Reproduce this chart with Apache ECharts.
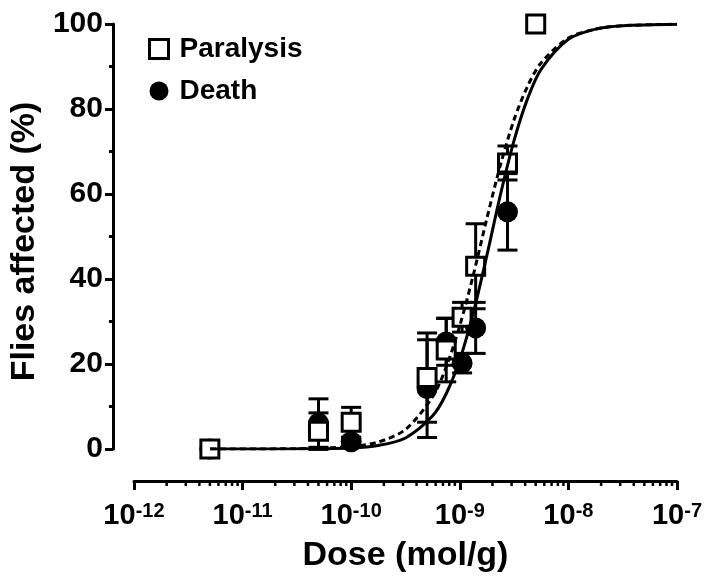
<!DOCTYPE html>
<html><head><meta charset="utf-8">
<script src="https://cdn.jsdelivr.net/npm/echarts@6/dist/echarts.min.js"></script>
<style>html,body{margin:0;padding:0;background:#fff}#c{width:716px;height:585px}</style>
</head><body><div id="c"></div>
<script>
// Doses (mol/g)
const paralysisDoses = [5e-12, 5e-11, 1e-10, 5e-10, 7.5e-10, 1.05e-9, 1.4e-9, 2.75e-9, 5e-9];
const paralysisMean  = [0, 4.2, 6.3, 16.8, 23.3, 31, 43, 67.3, 100];
const paralysisErr   = [0, 4.3, 3.5, 10.5, 7.5, 3.5, 10, 4, 0];
const deathDoses = [5e-12, 5e-11, 1e-10, 5e-10, 7.5e-10, 1.05e-9, 1.4e-9, 2.75e-9];
const deathMean  = [0, 6.1, 1.7, 14.2, 25.2, 20.2, 28.5, 55.8];
const deathErr   = [0, 5.7, 1, 11.5, 5.5, 2.3, 6, 9];
// fitted curves, at log10(dose)
const curveLogDose   = [-11.3, -10.5, -10, -9.75, -9.5, -9.25, -9.125, -9, -8.875, -8.75, -8.625, -8.5, -8.375, -8.25, -8, -7.75, -7.5, -7];
const deathCurve     = [0, 0.03, 0.26, 0.83, 2.6, 7.8, 13.0, 21.0, 32.1, 45.6, 59.9, 72.6, 82.5, 89.4, 96.4, 98.8, 99.6, 99.96];
const paralysisCurve = [0, 0.07, 0.57, 1.65, 4.6, 12.3, 19.3, 29.0, 41.0, 54.3, 66.9, 77.5, 85.4, 90.9, 96.7, 98.8, 99.6, 99.95];
// axis ticks
const xDecades = [-12, -11, -10, -9, -8];
const minorMultipliers = [2, 3, 4, 5, 6, 7, 8, 9];

const FONT = 'Liberation Sans, Arial, sans-serif';
const X_OFFSET = 32, Y_OFFSET = 21;

const minorTickData = [];
xDecades.forEach(d => minorMultipliers.forEach(m => minorTickData.push([m * Math.pow(10, d), 0])));

function errRender(params, api) {
  const x = api.value(0), y = api.value(1), e = api.value(2);
  if (!e) return { type: 'group', children: [] };
  const top = api.coord([x, y + e]);
  const bot = api.coord([x, y - e]);
  const hw = 10;
  const style = { stroke: '#000', lineWidth: 3, fill: null };
  return { type: 'group', children: [
    { type: 'line', shape: { x1: top[0], y1: top[1], x2: bot[0], y2: bot[1] }, style },
    { type: 'line', shape: { x1: top[0] - hw, y1: top[1], x2: top[0] + hw, y2: top[1] }, style },
    { type: 'line', shape: { x1: bot[0] - hw, y1: bot[1], x2: bot[0] + hw, y2: bot[1] }, style }
  ]};
}
function minorTickRender(params, api) {
  const p = api.coord([api.value(0), 0]);
  return { type: 'line', shape: { x1: p[0], y1: p[1] + X_OFFSET, x2: p[0], y2: p[1] + X_OFFSET + 5 },
           style: { stroke: '#000', lineWidth: 2.5 } };
}

const chart = echarts.init(document.getElementById('c'), null, { renderer: 'canvas' });
chart.setOption({
  animation: false,
  backgroundColor: '#fff',
  grid: { left: 131, right: 39, top: 24, bottom: 136, containLabel: false },
  legend: {
    orient: 'vertical', left: 143, top: 29, itemGap: 12,
    itemWidth: 19, itemHeight: 19,
    textStyle: { fontSize: 28, fontWeight: 'bold', color: '#000', fontFamily: FONT, lineHeight: 30, padding: [0, 0, 0, 6] },
    data: [
      { name: 'Paralysis', icon: 'rect', itemStyle: { color: '#fff', borderColor: '#000', borderWidth: 3 } },
      { name: 'Death', icon: 'circle', itemStyle: { color: '#000', borderWidth: 0 } }
    ]
  },
  xAxis: {
    type: 'log', logBase: 10, min: 1e-12, max: 1e-7, offset: X_OFFSET,
    name: 'Dose (mol/g)', nameLocation: 'middle', nameGap: 58,
    nameTextStyle: { fontSize: 34, fontWeight: 'bold', color: '#000', fontFamily: FONT },
    axisLine: { show: true, onZero: false, lineStyle: { color: '#000', width: 3 } },
    axisTick: { show: true, length: 9, lineStyle: { color: '#000', width: 3 } },
    minorTick: { show: false },
    splitLine: { show: false },
    axisLabel: {
      margin: 20, color: '#000',
      formatter: v => '{b|10}{s|' + Math.round(Math.log10(v)) + '}',
      rich: {
        b: { fontSize: 29, fontWeight: 'bold', color: '#000', fontFamily: FONT, lineHeight: 29 },
        s: { fontSize: 20, fontWeight: 'bold', color: '#000', fontFamily: FONT, lineHeight: 20, verticalAlign: 'top' }
      }
    }
  },
  yAxis: {
    type: 'value', min: 0, max: 100, interval: 20, offset: Y_OFFSET,
    name: 'Flies affected (%)', nameLocation: 'middle', nameGap: 50,
    nameTextStyle: { fontSize: 34, fontWeight: 'bold', color: '#000', fontFamily: FONT, padding: [0, 10, 0, 0] },
    axisLine: { show: true, onZero: false, lineStyle: { color: '#000', width: 3 } },
    axisTick: { show: true, length: 8, lineStyle: { color: '#000', width: 3 } },
    minorTick: { show: true, splitNumber: 2, length: 4, lineStyle: { color: '#000', width: 3 } },
    splitLine: { show: false }, minorSplitLine: { show: false },
    axisLabel: { margin: 10, fontSize: 30, fontWeight: 'bold', color: '#000', fontFamily: FONT }
  },
  series: [
    { type: 'custom', name: 'minorTicks', silent: true, clip: false, renderItem: minorTickRender, data: minorTickData, z: 3 },
    { type: 'custom', name: 'DeathErr', silent: true, renderItem: errRender,
      data: deathDoses.map((d, i) => [d, deathMean[i], deathErr[i]]), z: 2 },
    { type: 'scatter', name: 'Death', symbol: 'circle', symbolSize: 21,
      itemStyle: { color: '#000', opacity: 1 }, data: deathDoses.map((d, i) => [d, deathMean[i]]), z: 2 },
    { type: 'custom', name: 'ParalysisErr', silent: true, renderItem: errRender,
      data: paralysisDoses.map((d, i) => [d, paralysisMean[i], paralysisErr[i]]), z: 2 },
    { type: 'scatter', name: 'Paralysis', symbol: 'rect', symbolSize: 18,
      itemStyle: { color: '#fff', borderColor: '#000', borderWidth: 3, opacity: 1 },
      data: paralysisDoses.map((d, i) => [d, paralysisMean[i]]), z: 2 },
    { type: 'line', name: 'DeathFit', showSymbol: false, symbol: 'none', smooth: 0.3, silent: true,
      lineStyle: { color: '#000', width: 3, type: 'solid' },
      data: curveLogDose.map((l, i) => [Math.pow(10, l), deathCurve[i]]), z: 3 },
    { type: 'line', name: 'ParalysisFit', showSymbol: false, symbol: 'none', smooth: 0.3, silent: true,
      lineStyle: { color: '#000', width: 3, type: [6, 4] },
      data: curveLogDose.map((l, i) => [Math.pow(10, l), paralysisCurve[i]]), z: 3 }
  ]
});
</script>
</body></html>
